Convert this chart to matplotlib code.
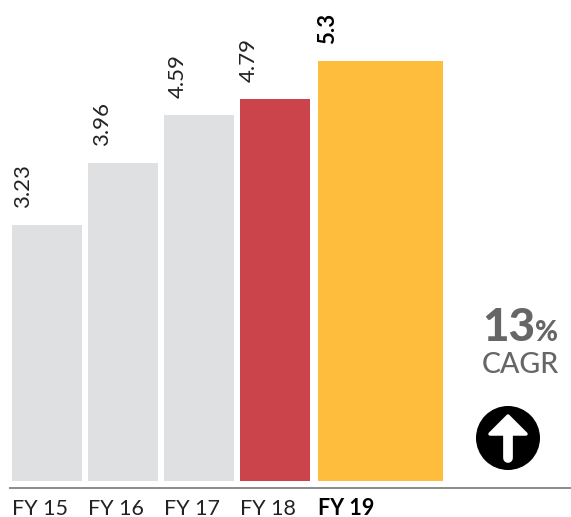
import matplotlib.pyplot as plt
from matplotlib.patches import Circle, Polygon

plt.rcParams['font.family'] = ['Lato', 'DejaVu Sans']

# data
years = ['FY 15', 'FY 16', 'FY 17', 'FY 18', 'FY 19']
heights = [3.23, 4.01, 4.62, 4.82, 5.30]
value_labels = ['3.23', '3.96', '4.59', '4.79', '5.3']
cagr = '13'

colors = ['#dfe0e2', '#dfe0e2', '#dfe0e2', '#cc444b', '#ffbd3e']
text_color = '#222222'
px_per_unit = 79.25

fig = plt.figure(figsize=(5.71, 5.17), dpi=100)

# main axes: x in pixels, y in value units, zero at the bar bottoms
ax = fig.add_axes([0, 0, 1, 1])
ax.set_xlim(0, 571)
ax.set_ylim(-(517 - 481) / px_per_unit, 481 / px_per_unit)
ax.axis('off')

lefts = [12, 88, 164, 240, 318]
widths = [70, 70, 70, 70, 125]
label_x = [23, 102, 178, 249, 328]
tick_x = [12, 88, 164, 240, 318]

ax.bar(lefts, heights, width=widths, align='edge', color=colors, linewidth=0)

for i in range(len(years)):
    weight = 'bold' if i == 4 else 'normal'
    ax.annotate(value_labels[i], (label_x[i], heights[i]), xytext=(0, 12.2),
                textcoords='offset points', rotation=90, ha='center', va='bottom',
                fontsize=16, color='black' if i == 4 else text_color, fontweight=weight)
    ax.annotate(years[i], (tick_x[i], 0), xytext=(0, -24.3),
                textcoords='offset points', ha='left', va='baseline',
                fontsize=15.5, color='black' if i == 4 else text_color, fontweight=weight)

# overlay in pixel coordinates for the rule and the CAGR badge
deco = fig.add_axes([0, 0, 1, 1])
deco.set_xlim(0, 571)
deco.set_ylim(517, 0)
deco.axis('off')
deco.patch.set_alpha(0)

deco.plot([9, 571], [488, 488], color='#777777', lw=1.2, solid_capstyle='butt')

deco.text(482, 341, cagr, fontsize=33, fontweight='black', color='#666666', ha='left', va='baseline')
deco.text(535, 341, '%', fontsize=20, fontweight='black', color='#666666', ha='left', va='baseline')
deco.text(482, 373, 'CAGR', fontsize=20.5, fontweight='medium', color='#666666', ha='left', va='baseline')

deco.add_patch(Circle((508, 438), 32, color='black', lw=0))
deco.add_patch(Polygon([(508, 416), (490, 434), (526, 434)], closed=True, facecolor='white',
                       edgecolor='white', lw=2.5, joinstyle='round'))
deco.plot([508, 508], [430, 458], color='white', lw=7, solid_capstyle='round')

fig.savefig('out.png', dpi=100)
